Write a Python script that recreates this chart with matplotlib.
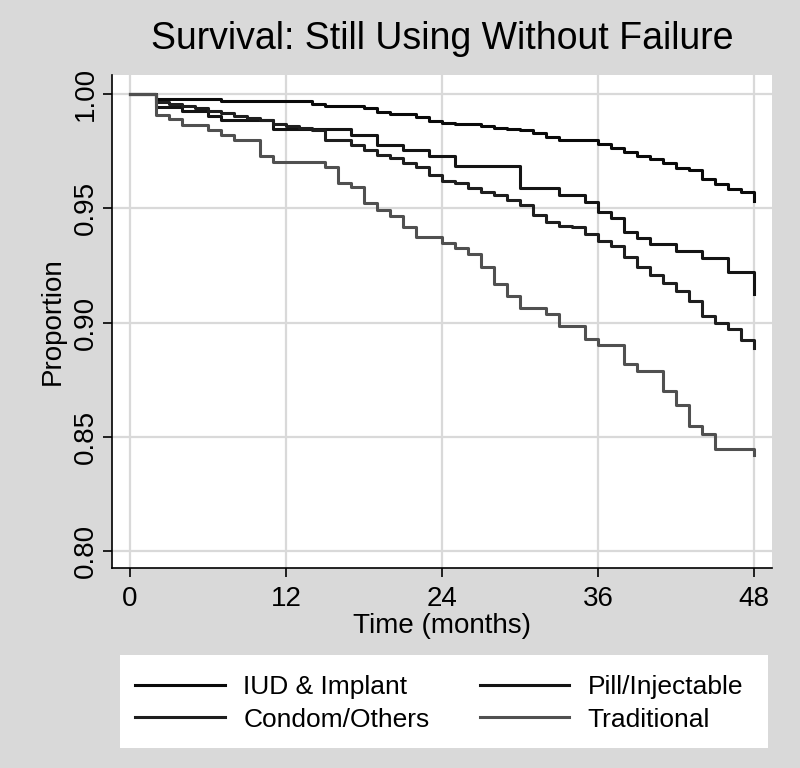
import numpy as np
import matplotlib
matplotlib.use("Agg")
import matplotlib.pyplot as plt
from matplotlib.patches import Rectangle

# --- Kaplan-Meier style survival (value holds from month t) ---
months = list(range(0, 49))

iud_implant = [1.000, 1.000, 0.998, 0.998, 0.998, 0.998, 0.998, 0.997, 0.997, 0.997,
               0.997, 0.997, 0.997, 0.997, 0.9955, 0.9947, 0.9947, 0.9947, 0.9937, 0.9923,
               0.9913, 0.9913, 0.9898, 0.9883, 0.9875, 0.9869, 0.9869, 0.986, 0.9853, 0.9845,
               0.9841, 0.9828, 0.981, 0.980, 0.980, 0.980, 0.9781, 0.9765, 0.9746, 0.9729,
               0.9714, 0.970, 0.9678, 0.9668, 0.963, 0.9605, 0.9583, 0.9573, 0.953]

pill_injectable = [1.000, 1.000, 0.9942, 0.9942, 0.9927, 0.9927, 0.9904, 0.9886, 0.9886, 0.9886,
                   0.9886, 0.9845, 0.9845, 0.9845, 0.9845, 0.9845, 0.9845, 0.982, 0.982, 0.9777,
                   0.9777, 0.9755, 0.9755, 0.973, 0.973, 0.9685, 0.9685, 0.9685, 0.9685, 0.9685,
                   0.9587, 0.9587, 0.9587, 0.9558, 0.9558, 0.9529, 0.9482, 0.9456, 0.9395, 0.9372,
                   0.9343, 0.9343, 0.9314, 0.9314, 0.9281, 0.9281, 0.9219, 0.9219, 0.9125]

condom_others = [1.000, 1.000, 0.9966, 0.9956, 0.9947, 0.9937, 0.9927, 0.9915, 0.9904, 0.9893,
                 0.9886, 0.9869, 0.986, 0.985, 0.9843, 0.980, 0.980, 0.9777, 0.9755, 0.9733,
                 0.9718, 0.9697, 0.9682, 0.9646, 0.962, 0.961, 0.9587, 0.9573, 0.9558, 0.9534,
                 0.9515, 0.947, 0.9439, 0.9424, 0.9416, 0.9386, 0.9357, 0.9333, 0.9285, 0.9245,
                 0.9206, 0.9172, 0.9139, 0.9095, 0.9027, 0.8997, 0.8973, 0.8925, 0.889]

traditional = [1.000, 1.000, 0.9908, 0.989, 0.9864, 0.9864, 0.9843, 0.982, 0.980, 0.980,
               0.9729, 0.9704, 0.9704, 0.9704, 0.9704, 0.9682, 0.961, 0.9595, 0.9522, 0.9493,
               0.9468, 0.942, 0.9373, 0.9373, 0.9347, 0.9325, 0.9299, 0.9245, 0.9168, 0.9117,
               0.9063, 0.9063, 0.9037, 0.8983, 0.8983, 0.8929, 0.8903, 0.8903, 0.8818, 0.8789,
               0.8789, 0.8699, 0.8638, 0.8546, 0.8512, 0.8448, 0.8448, 0.8448, 0.842]

labels = ["IUD & Implant", "Pill/Injectable", "Condom/Others", "Traditional"]
xticks = [0, 12, 24, 36, 48]
yticks = [0.80, 0.85, 0.90, 0.95, 1.00]

plt.rcParams["font.family"] = ["Liberation Sans Narrow", "Liberation Sans", "DejaVu Sans"]

W, H = 800, 768
bg = "#d9d9d9"
fig = plt.figure(figsize=(W / 100, H / 100), dpi=100, facecolor=bg)
ax = fig.add_axes([112 / W, 1 - 568 / H, 660 / W, 493 / H])
ax.set_facecolor("white")

series = [iud_implant, pill_injectable, condom_others, traditional]
colors = ["#0a0a0a", "#141414", "#1e1e1e", "#505050"]
handles = []
for vals, lab, c in zip(series, labels, colors):
    h, = ax.step(months, vals, where="post", color=c, lw=2.2, label=lab)
    handles.append(h)

ax.set_xlim(-1.38, 49.4)
ax.set_ylim(0.7926, 1.0083)
ax.set_xticks(xticks)
ax.set_yticks(yticks)
ax.set_yticklabels([f"{v:.2f}" for v in yticks], rotation=90, va="center")
ax.tick_params(axis="both", labelsize=20, length=6.5, width=1.2, direction="out")
ax.tick_params(axis="x", pad=6.5)
ax.tick_params(axis="y", pad=3)
ax.grid(True, color="#d9d9d9", lw=1.6)
ax.set_axisbelow(True)
for side in ["top", "right"]:
    ax.spines[side].set_visible(False)
for side in ["left", "bottom"]:
    ax.spines[side].set_linewidth(1.2)

ax.set_xlabel("Time (months)", fontsize=20, labelpad=1)
ax.set_ylabel("Proportion", fontsize=20, labelpad=5)
ax.set_title("Survival: Still Using Without Failure", fontsize=27, pad=19)

# white legend region, then the legend itself on top of it
fig.patches.append(Rectangle((120 / W, 1 - 748 / H), 648 / W, 93 / H,
                             transform=fig.transFigure, facecolor="white",
                             edgecolor="none", zorder=0))
leg = fig.legend([handles[0], handles[2], handles[1], handles[3]],
                 [labels[0], labels[2], labels[1], labels[3]],
                 ncol=2, loc="upper left", bbox_to_anchor=(135 / W, 1 - 675 / H),
                 fontsize=19, frameon=False,
                 handlelength=3.4, handletextpad=0.7, columnspacing=1.9,
                 labelspacing=0.33, borderpad=0, borderaxespad=0)

fig.savefig("out.png", dpi=100, facecolor=bg)
